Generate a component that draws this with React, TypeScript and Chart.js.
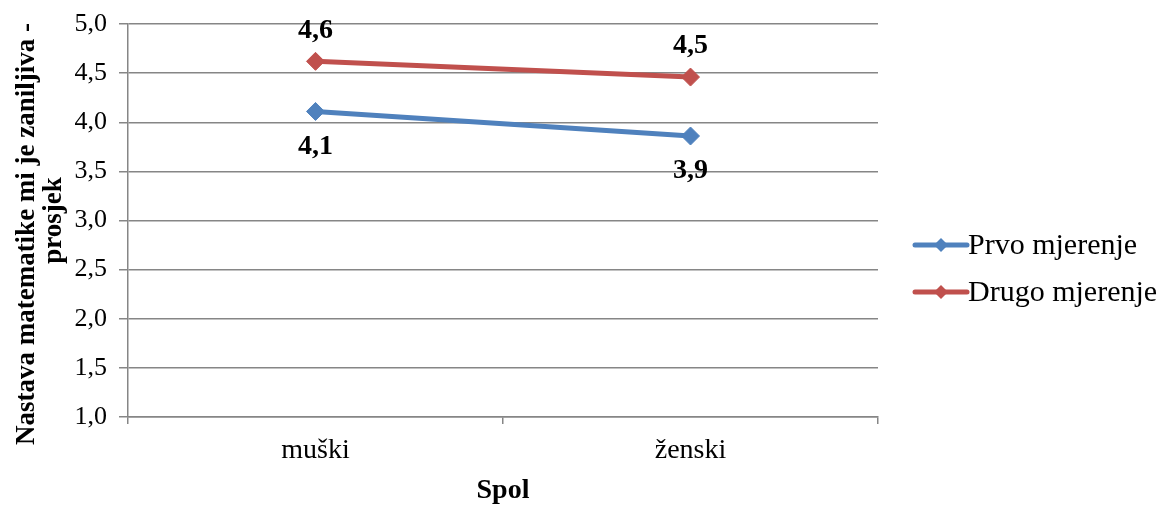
import React, { useEffect, useRef } from 'react';
import { Chart, registerables } from 'chart.js';

Chart.register(...registerables);

const categories = ['muški', 'ženski'];
const prvoMjerenje = [4.11, 3.86];
const drugoMjerenje = [4.62, 4.46];
const seriesNames = ['Prvo mjerenje', 'Drugo mjerenje'];
const yMin = 1.0;
const yMax = 5.0;
const yStep = 0.5;
const yAxisTitle = ['Nastava matematike mi je zaniljiva -    ', 'prosjek'];
const xAxisTitle = 'Spol';

const FONT = "'Liberation Serif', 'Times New Roman', serif";
const BLUE = '#4F81BD';
const RED = '#C0504D';
const GRID = '#868686';

const fmt = (v: number) => v.toFixed(1).replace('.', ',');

const dataLabelPlugin = {
  id: 'dataLabels',
  afterDatasetsDraw(chart: any) {
    const ctx = chart.ctx;
    ctx.save();
    ctx.font = `bold 28px ${FONT}`;
    ctx.fillStyle = '#000';
    ctx.textAlign = 'center';
    ctx.textBaseline = 'middle';
    chart.data.datasets.forEach((ds: any, i: number) => {
      const meta = chart.getDatasetMeta(i);
      const off = ds.labelOffset;
      meta.data.forEach((el: any, j: number) => {
        ctx.fillText(fmt(ds.data[j]), el.x, el.y + off);
      });
    });
    ctx.restore();
  },
};

const legendPlugin = {
  id: 'customLegend',
  afterDraw(chart: any) {
    const ctx = chart.ctx;
    const x0 = 915;
    const lineLen = 52;
    const rows = [245, 292];
    ctx.save();
    chart.data.datasets.forEach((ds: any, i: number) => {
      const y = rows[i];
      ctx.strokeStyle = ds.borderColor;
      ctx.lineWidth = 5;
      ctx.lineCap = 'round';
      ctx.beginPath();
      ctx.moveTo(x0, y);
      ctx.lineTo(x0 + lineLen, y);
      ctx.stroke();
      const cx = x0 + lineLen / 2;
      ctx.fillStyle = ds.borderColor;
      ctx.beginPath();
      ctx.moveTo(cx, y - 7);
      ctx.lineTo(cx + 7, y);
      ctx.lineTo(cx, y + 7);
      ctx.lineTo(cx - 7, y);
      ctx.closePath();
      ctx.fill();
      ctx.fillStyle = '#000';
      ctx.font = `30px ${FONT}`;
      ctx.textAlign = 'left';
      ctx.textBaseline = 'middle';
      ctx.fillText(ds.label, x0 + lineLen + 1, y + 1);
    });
    ctx.restore();
  },
};

export default function App() {
  const ref = useRef<HTMLCanvasElement>(null);
  useEffect(() => {
    if (!ref.current) return;
    const chart = new Chart(ref.current, {
      type: 'line',
      data: {
        labels: categories,
        datasets: [
          {
            label: seriesNames[0],
            data: prvoMjerenje,
            borderColor: BLUE,
            backgroundColor: BLUE,
            borderWidth: 5,
            pointStyle: 'rectRot',
            pointRadius: 9,
            pointBorderWidth: 1,
            tension: 0,
            labelOffset: 35,
          } as any,
          {
            label: seriesNames[1],
            data: drugoMjerenje,
            borderColor: RED,
            backgroundColor: RED,
            borderWidth: 5,
            pointStyle: 'rectRot',
            pointRadius: 9,
            pointBorderWidth: 1,
            tension: 0,
            labelOffset: -31,
          } as any,
        ],
      },
      options: {
        responsive: false,
        animation: false,
        devicePixelRatio: 1,
        layout: { padding: { top: 24, right: 286, bottom: 0, left: 0 } },
        plugins: {
          legend: { display: false },
          tooltip: { enabled: false },
        },
        scales: {
          x: {
            type: 'category',
            offset: true,
            grid: {
              display: true,
              drawOnChartArea: false,
              drawTicks: true,
              tickLength: 7,
              color: GRID,
              lineWidth: 1.5,
              offset: true,
            },
            border: { display: true, color: GRID, width: 1.5 },
            ticks: { font: { size: 28, family: FONT }, color: '#000', padding: 10 },
            title: {
              display: true,
              text: xAxisTitle,
              color: '#000',
              font: { size: 28, weight: 'bold', family: FONT, lineHeight: 1.0 },
              padding: { top: 0, bottom: 1 },
            },
            afterFit: (s: any) => {
              s.height = 89;
              s.paddingLeft = 0;
              s.paddingRight = 0;
            },
          },
          y: {
            min: yMin,
            max: yMax,
            ticks: {
              stepSize: yStep,
              font: { size: 26, family: FONT },
              color: '#000',
              padding: 12,
              callback: (v: any) => fmt(Number(v)),
            },
            grid: { color: GRID, tickLength: 9, lineWidth: 1.5 },
            border: { display: true, color: GRID, width: 1.5 },
            title: {
              display: true,
              text: yAxisTitle,
              color: '#000',
              font: { size: 27, weight: 'bold', family: FONT, lineHeight: 1.0 },
              padding: { top: 14, bottom: 0 },
            },
            afterFit: (s: any) => {
              s.width = 128;
              s.paddingTop = 0;
              s.paddingBottom = 0;
            },
          },
        },
      } as any,
      plugins: [dataLabelPlugin, legendPlugin],
    });
    return () => chart.destroy();
  }, []);
  return (
    <div style={{ position: 'absolute', left: 0, top: 0, width: 1164, height: 506, background: '#fff' }}>
      <canvas ref={ref} width={1164} height={506} />
    </div>
  );
}
